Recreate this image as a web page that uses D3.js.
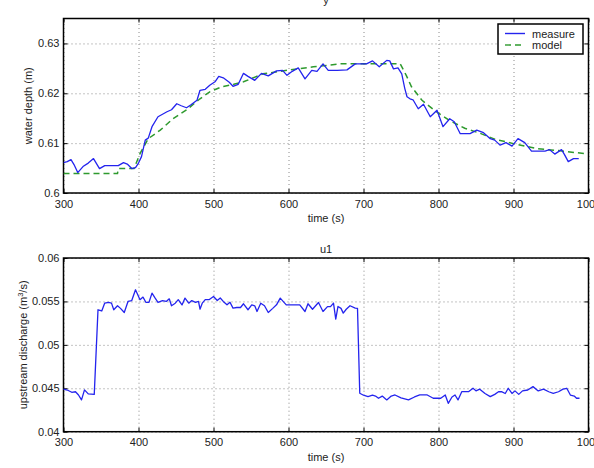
<!DOCTYPE html>
<html><head><meta charset="utf-8">
<script src="https://cdn.jsdelivr.net/npm/d3@7"></script>
<style>
html,body{margin:0;padding:0;background:#fff;}
svg{display:block;}
text{font-family:"Liberation Sans",Arial,sans-serif;fill:#222;}
</style></head>
<body>
<svg id="c" width="594" height="468"></svg>
<script>
// ---------- data ----------
const measureT = [300,305,310,314,319,326,333,340,348,355,365,373,380,385,391,396,400,404,409,413,418,426,432,438,444,451,457,464,470,478,482,489,495,502,507,513,521,526,533,540,546,555,564,573,584,592,598,605,613,622,631,638,646,653,665,678,689,697,704,712,721,731,735,740,746,751,755,758,762,766,773,780,789,798,806,815,821,829,842,851,860,869,875,882,890,898,906,915,924,942,948,955,964,968,973,980,987];
const measureY = [0.6061,0.6063,0.6067,0.6057,0.6041,0.6053,0.6060,0.6069,0.6049,0.6055,0.6055,0.6055,0.6061,0.6058,0.6049,0.6051,0.6060,0.6073,0.6106,0.6110,0.6133,0.6153,0.6158,0.6163,0.6167,0.6179,0.6175,0.6171,0.6177,0.6186,0.6206,0.6208,0.6216,0.6223,0.6234,0.6231,0.6222,0.6214,0.6218,0.6240,0.6234,0.6226,0.6240,0.6235,0.6245,0.6246,0.6236,0.6244,0.6251,0.6229,0.6246,0.6244,0.6259,0.6246,0.6246,0.6247,0.6259,0.6259,0.6259,0.6265,0.6253,0.6266,0.6265,0.6249,0.6251,0.6239,0.6210,0.6193,0.6189,0.6187,0.6169,0.6178,0.6153,0.6166,0.6133,0.6149,0.6143,0.6119,0.6119,0.6126,0.6121,0.6109,0.6106,0.6096,0.6101,0.6094,0.6109,0.6101,0.6084,0.6084,0.6087,0.6078,0.6087,0.6077,0.6063,0.6069,0.6069];

const modelT = [300,372,373,394,402,413,429,446,466,482,495,511,527,540,566,602,633,669,700,749,757,764,778,797,815,835,855,875,900,931,960,995];
const modelY = [0.6039,0.6039,0.6049,0.6049,0.6079,0.6109,0.6126,0.6149,0.6169,0.6189,0.6203,0.6213,0.6218,0.6223,0.6239,0.6247,0.6253,0.6259,0.6259,0.6259,0.6236,0.6213,0.6186,0.6163,0.6145,0.6130,0.6120,0.6108,0.6099,0.6089,0.6085,0.6079];

const u1T = [300,305,311,316,320,324,328,333,341,346,351,355,360,364,367,372,376,381,386,391,396,402,406,410,414,418,422,426,432,437,441,444,449,453,458,462,467,471,476,480,482,485,489,494,500,505,509,513,518,522,526,531,536,540,546,551,555,558,563,568,573,579,584,589,597,615,622,626,632,640,646,652,656,660,663,666,670,673,677,682,689,692,695,700,706,712,716,720,725,731,737,742,750,760,768,775,785,793,803,809,813,818,822,826,831,840,846,850,855,862,869,875,880,884,889,893,898,902,907,912,919,926,933,940,947,953,960,966,971,976,981,984,988];
const u1Y = [0.0449,0.0448,0.04454,0.0446,0.04423,0.04366,0.04481,0.04435,0.0443,0.05404,0.0539,0.05481,0.0549,0.0548,0.05404,0.0545,0.0542,0.05373,0.0550,0.0551,0.05634,0.0552,0.0555,0.05488,0.0549,0.05596,0.0554,0.05488,0.0551,0.0550,0.0553,0.0545,0.0548,0.0552,0.0546,0.05538,0.0548,0.0551,0.0549,0.0550,0.05411,0.0548,0.0552,0.0552,0.05557,0.0551,0.0554,0.0550,0.05461,0.0549,0.05423,0.0543,0.0543,0.05473,0.05404,0.0546,0.0545,0.05384,0.0548,0.0545,0.05373,0.0542,0.05461,0.05538,0.0546,0.0546,0.05384,0.05473,0.0541,0.05488,0.05384,0.0544,0.0544,0.05481,0.05296,0.05442,0.0542,0.05365,0.0541,0.0545,0.05423,0.0542,0.04443,0.0442,0.04404,0.0442,0.0441,0.04385,0.0441,0.04366,0.0441,0.04423,0.0439,0.04366,0.0440,0.04423,0.04423,0.04385,0.04385,0.04423,0.04327,0.0440,0.04423,0.04366,0.04461,0.04461,0.0450,0.0447,0.0449,0.0444,0.04404,0.0443,0.0446,0.04461,0.0444,0.0450,0.0444,0.0447,0.0443,0.0447,0.0448,0.04519,0.0447,0.0449,0.0446,0.04442,0.0446,0.0449,0.0450,0.0442,0.0441,0.04385,0.04385];

const xTicks = [300,400,500,600,700,800,900,1000];
const yTicksTop = [0.6,0.61,0.62,0.63];
const yTicksBot = [0.04,0.045,0.05,0.055,0.06];
const legendLabels = ["measure","model"];

// ---------- layout ----------
const svg = d3.select("#c");
svg.append("rect").attr("width",594).attr("height",468).attr("fill","#fff");

const L = 63.5, R = 588.5;
const panels = [
  {top:18.5, bottom:193, ydom:[0.6,0.635], yticks:yTicksTop, title:"y", titleY:4, ylabel:"water depth (m)", ylabelX:32},
  {top:258, bottom:431.7, ydom:[0.04,0.06], yticks:yTicksBot, title:"u1", titleY:253, ylabel:null, ylabelX:27}
];

const fmt = d => String(+d.toFixed(4));

panels.forEach((p,i) => {
  const x = d3.scaleLinear().domain([300,1000]).range([L,R]);
  const y = d3.scaleLinear().domain(p.ydom).range([p.bottom,p.top]);
  p.x = x; p.y = y;
  const g = svg.append("g");
  const W = R-L, H = p.bottom-p.top;

  // grid
  const gx = g.append("g").attr("transform",`translate(0,${p.bottom})`)
    .call(d3.axisBottom(x).tickValues(xTicks).tickSize(-H).tickFormat(""));
  const gy = g.append("g").attr("transform",`translate(${L},0)`)
    .call(d3.axisLeft(y).tickValues(p.yticks).tickSize(-W).tickFormat(""));
  [gx,gy].forEach(a=>{
    a.select(".domain").remove();
    a.selectAll("line").attr("stroke","#8a8a8a").attr("stroke-width",1).attr("stroke-dasharray","1,3");
  });

  // ticks + labels
  const ab = g.append("g").attr("transform",`translate(0,${p.bottom})`)
    .call(d3.axisBottom(x).tickValues(xTicks).tickSizeInner(-4).tickSizeOuter(0).tickPadding(7).tickFormat(d3.format("d")));
  const at = g.append("g").attr("transform",`translate(0,${p.top})`)
    .call(d3.axisTop(x).tickValues(xTicks).tickSizeInner(-4).tickSizeOuter(0).tickFormat(""));
  const al = g.append("g").attr("transform",`translate(${L},0)`)
    .call(d3.axisLeft(y).tickValues(p.yticks).tickSizeInner(-4).tickSizeOuter(0).tickPadding(4).tickFormat(fmt));
  const ar = g.append("g").attr("transform",`translate(${R},0)`)
    .call(d3.axisRight(y).tickValues(p.yticks).tickSizeInner(-4).tickSizeOuter(0).tickFormat(""));
  [ab,at,al,ar].forEach(a=>{
    a.select(".domain").remove();
    a.selectAll("line").attr("stroke","#000").attr("stroke-width",1);
    a.selectAll("text").attr("font-size",11).attr("font-family","Liberation Sans, Arial, sans-serif").attr("fill","#222");
  });

  // frame
  g.append("rect").attr("x",L).attr("y",p.top).attr("width",W).attr("height",H)
    .attr("fill","none").attr("stroke","#000").attr("stroke-width",1.5);

  // title
  g.append("text").attr("x",(L+R)/2).attr("y",p.titleY).attr("text-anchor","middle")
    .attr("font-size",11).text(p.title);
  // x label
  g.append("text").attr("x",(L+R)/2).attr("y",p.bottom+29).attr("text-anchor","middle")
    .attr("font-size",11).text("time (s)");
  // y label
  const yl = g.append("text").attr("transform",`translate(${p.ylabelX},${(p.top+p.bottom)/2}) rotate(-90)`)
    .attr("text-anchor","middle").attr("font-size",11);
  if (p.ylabel) yl.text(p.ylabel);
  else {
    yl.append("tspan").text("upstream discharge (m");
    yl.append("tspan").attr("font-size",7.5).attr("dy",-4).text("3");
    yl.append("tspan").attr("dy",4).text("/s)");
  }
});

// lines
const p0 = panels[0], p1 = panels[1];
const clip0 = svg.append("clipPath").attr("id","cl0").append("rect")
  .attr("x",L).attr("y",p0.top).attr("width",R-L).attr("height",p0.bottom-p0.top);
const lineTop = d3.line().x(d=>p0.x(d[0])).y(d=>p0.y(d[1]));
svg.append("path").datum(modelT.map((t,i)=>[t,modelY[i]]))
  .attr("d",lineTop).attr("fill","none").attr("stroke","#2e9a2e").attr("stroke-width",1.5)
  .attr("stroke-dasharray","6,4").attr("clip-path","url(#cl0)");
svg.append("path").datum(measureT.map((t,i)=>[t,measureY[i]]))
  .attr("d",lineTop).attr("fill","none").attr("stroke","#2424ee").attr("stroke-width",1.3)
  .attr("stroke-linejoin","round").attr("clip-path","url(#cl0)");

const lineBot = d3.line().x(d=>p1.x(d[0])).y(d=>p1.y(d[1]));
svg.append("path").datum(u1T.map((t,i)=>[t,u1Y[i]]))
  .attr("d",lineBot).attr("fill","none").attr("stroke","#2424ee").attr("stroke-width",1.3)
  .attr("stroke-linejoin","round");

// legend
const lg = svg.append("g");
lg.append("rect").attr("x",498).attr("y",24).attr("width",85).attr("height",30)
  .attr("fill","#fff").attr("stroke","#000").attr("stroke-width",1.5);
const lstyles = [{c:"#2424ee",d:null},{c:"#2e9a2e",d:"6,4"}];
legendLabels.forEach((lab,i)=>{
  const yy = 33.5 + i*11.5;
  const ln = lg.append("line").attr("x1",505).attr("x2",525).attr("y1",yy).attr("y2",yy)
    .attr("stroke",lstyles[i].c).attr("stroke-width",1.4);
  if (lstyles[i].d) ln.attr("stroke-dasharray",lstyles[i].d);
  lg.append("text").attr("x",532).attr("y",yy+4).attr("font-size",11).text(lab);
});
</script>
</body></html>
